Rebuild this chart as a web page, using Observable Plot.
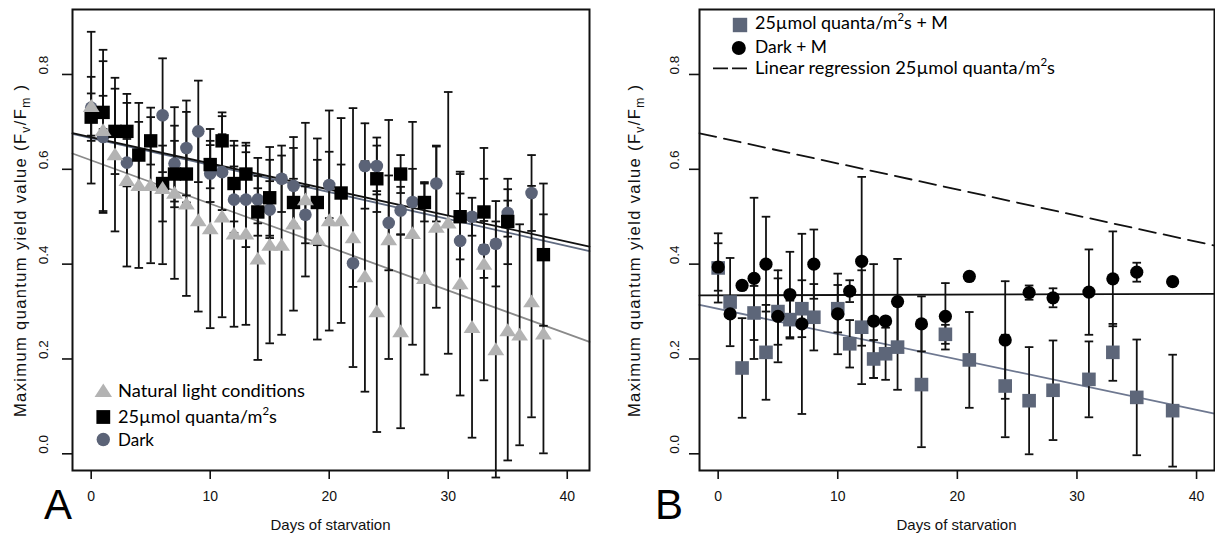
<!DOCTYPE html>
<html><head><meta charset="utf-8">
<script src="https://cdn.jsdelivr.net/npm/d3@7"></script>
<script src="https://cdn.jsdelivr.net/npm/@observablehq/plot@0.6"></script>
<style>
body{margin:0;background:#fff;}
#wrap{position:relative;width:1215px;height:536px;overflow:hidden;background:#fff;}
#a{position:absolute;left:0;top:0;width:600px;height:536px;}
#b{position:absolute;left:600px;top:0;width:615px;height:536px;}
svg{display:block;}
</style></head><body>
<div id="wrap"><div id="a"></div><div id="b"></div></div>
<script>
// ---------- Data: panel A ----------
const aNatDays = [0,1,2,3,4,5,6,7,8,9,10,11,12,13,14,15,16,17,18,19,20,21,22,23,24,25,26,27,28,29,30,31,32,33,34,35,36,37,38];
const aNatVals = [0.733,0.682,0.631,0.577,0.566,0.566,0.56,0.55,0.527,0.492,0.475,0.50,0.464,0.464,0.411,0.44,0.44,0.485,0.536,0.453,0.492,0.492,0.456,0.374,0.30,0.452,0.258,0.465,0.37,0.478,0.487,0.359,0.267,0.40,0.22,0.26,0.251,0.321,0.253];
const aNatErr  = [0.062,0.17,0.162,0.182,0.174,0.164,0.16,0.181,0.194,0.192,0.21,0.212,0.196,0.192,0.213,0.207,0.189,0.183,0.162,0.212,0.232,0.216,0.273,0.243,0.254,0.252,0.204,0.235,0.203,0.17,0.276,0.236,0.233,0.245,0.27,0.274,0.233,0.244,0.252];

const aLightDays = [0,1,2,3,4,5,6,7,8,10,11,12,13,14,15,17,19,21,24,26,28,31,33,35,38];
const aLightVals = [0.71,0.72,0.68,0.68,0.63,0.66,0.57,0.59,0.59,0.61,0.66,0.57,0.59,0.51,0.54,0.53,0.53,0.55,0.58,0.59,0.53,0.50,0.51,0.49,0.42];
const aLightErr  = [0.05,0.035,0.09,0.06,0.07,0.05,0.08,0.07,0.06,0.05,0.06,0.08,0.06,0.05,0.08,0.05,0.09,0.06,0.07,0.04,0.04,0.09,0.07,0.09,0.15];

const aDarkDays = [0,1,3,6,7,8,9,10,11,12,13,14,15,16,17,18,20,22,23,24,25,26,27,29,31,32,33,34,35,37];
const aDarkVals = [0.73,0.668,0.614,0.714,0.612,0.645,0.68,0.591,0.594,0.536,0.536,0.536,0.515,0.58,0.565,0.504,0.567,0.402,0.607,0.607,0.487,0.513,0.531,0.57,0.449,0.50,0.431,0.443,0.508,0.55];
const aDarkErr  = [0.16,0.16,0.05,0.12,0.08,0.1,0.107,0.06,0.08,0.07,0.1,0.05,0.06,0.07,0.08,0.06,0.07,0.05,0.09,0.06,0.1,0.05,0.07,0.08,0.1,0.04,0.06,0.09,0.05,0.08];

// regression lines [intercept, slope]
const aFitNat = [0.619, -0.00915];
const aFitLight = [0.6674, -0.0055];
const aFitDark = [0.666, -0.0057];

// ---------- Data: panel B ----------
const bDays = [0,1,2,3,4,5,6,7,8,10,11,12,13,14,15,17,19,21,24,26,28,31,33,35,38];
const bLightVals = [0.392,0.32,0.181,0.297,0.214,0.30,0.283,0.306,0.288,0.306,0.232,0.267,0.20,0.211,0.225,0.146,0.252,0.198,0.143,0.112,0.134,0.157,0.214,0.119,0.091];
const bLightErr  = [0.073,0.093,0.105,0.057,0.10,0.07,0.04,0.06,0.07,0.05,0.05,0.12,0.04,0.055,0.09,0.132,0.02,0.101,0.108,0.113,0.105,0.08,0.06,0.122,0.118];
const bDarkVals = [0.394,0.295,0.355,0.37,0.40,0.29,0.336,0.274,0.40,0.295,0.343,0.406,0.28,0.28,0.321,0.274,0.29,0.374,0.24,0.34,0.329,0.341,0.369,0.383,0.363];
const bDarkErr  = [0.05,0,0,0.17,0.10,0.097,0.09,0.19,0.073,0.085,0.023,0.178,0.12,0,0.09,0.058,0.07,0,0.124,0.015,0.02,0.09,0.10,0.02,0];
const bFitLight = [0.3057, -0.00532];
const bFitDark = [0.3341, 0.00008];
const bFitRef = [0.6674, -0.0055]; // dashed: regression of 25µmol from panel A

const xTicks = [0,10,20,30,40];
const yTicks = [0,0.2,0.4,0.6,0.8];

// ---------- helpers ----------
const rad = s => Math.sqrt(s/Math.PI);
const capSym = {draw(c,s){const r=rad(s); c.moveTo(-r,0); c.lineTo(r,0);}};
const triSym = {draw(c,s){const r=rad(s); c.moveTo(0,-r*0.98); c.lineTo(r*1.15,r*0.78); c.lineTo(-r*1.15,r*0.78); c.closePath();}};
const sqSym  = {draw(c,s){const r=rad(s); c.rect(-r,-r,2*r,2*r);}};

function rows(days, vals, errs){
  return days.map((d,i)=>({day:d, v:vals[i], e:errs[i], lo:vals[i]-errs[i], hi:vals[i]+errs[i]}));
}
function errMarks(data){
  const f = data.filter(d=>d.e>0);
  const o = {stroke:"#111", strokeWidth:1.8};
  return [
    Plot.ruleX(f,{x:"day",y1:"lo",y2:"hi",...o}),
    Plot.dot(f,{x:"day",y:"lo",symbol:capSym,r:4.3,fill:"none",...o}),
    Plot.dot(f,{x:"day",y:"hi",symbol:capSym,r:4.3,fill:"none",...o})
  ];
}
function fitLine(fit, xDomain, opts){
  const pts = xDomain.map(x=>({x, y: fit[0]+fit[1]*x}));
  return Plot.line(pts,{x:"x",y:"y",...opts});
}
const yDomain = [-0.0352, 0.937];
const FONT = "'Liberation Sans', Arial, sans-serif";
const LFONT = "Lato, 'Open Sans', sans-serif";

function basePlot({width, marginLeft, marginRight, xDomain, labelDx, marks}){
  return Plot.plot({
    width, height:536, marginLeft, marginRight, marginTop:9, marginBottom:66,
    style:{fontFamily:FONT, fontSize:"14px", background:"#fff", color:"#111"},
    x:{domain:xDomain, axis:null},
    y:{domain:yDomain, axis:null},
    marks:[
      ...marks,
      Plot.frame({stroke:"#111", strokeWidth:2}),
      Plot.axisX({ticks:xTicks, tickSize:9, tickPadding:12, label:null, strokeWidth:1.6, fontSize:14}),
      Plot.axisY({ticks:yTicks, tickSize:10, tickFormat:()=>"", label:null, strokeWidth:1.6}),
      Plot.text(yTicks,{y:d=>d, text:d=>d.toFixed(1), frameAnchor:"left", dx:labelDx, rotate:-90, fontSize:13.5, fill:"#111"})
    ]
  });
}

// ---------- Panel A ----------
const aX = [-1.57, 41.87];
const aNat = rows(aNatDays,aNatVals,aNatErr);
const aLight = rows(aLightDays,aLightVals,aLightErr);
const aDark = rows(aDarkDays,aDarkVals,aDarkErr);
const svgA = basePlot({width:600, marginLeft:72, marginRight:11, xDomain:aX, labelDx:-28.5, marks:[
  fitLine(aFitNat, aX, {stroke:"#8a8a8a", strokeWidth:1.8}),
  fitLine(aFitDark, aX, {stroke:"#5f6a80", strokeWidth:1.8}),
  fitLine(aFitLight, aX, {stroke:"#111", strokeWidth:1.8}),
  ...errMarks(aDark), ...errMarks(aLight), ...errMarks(aNat),
  Plot.dot(aDark,{x:"day",y:"v",r:6.3,fill:"#5b6377",stroke:"none"}),
  Plot.dot(aLight,{x:"day",y:"v",symbol:sqSym,r:6.7,fill:"#000",stroke:"none"}),
  Plot.dot(aNat,{x:"day",y:"v",symbol:triSym,r:7.3,fill:"#b3b3b3",stroke:"none"})
]});
document.getElementById("a").appendChild(svgA);

// ---------- Panel B ----------
const bX = [-1.56, 41.5];
const bLight = rows(bDays,bLightVals,bLightErr);
const bDark = rows(bDays,bDarkVals,bDarkErr);
const svgB = basePlot({width:615, marginLeft:99, marginRight:1, xDomain:bX, labelDx:-24.5, marks:[
  fitLine(bFitRef, bX, {stroke:"#111", strokeWidth:1.8, strokeDasharray:"17,8"}),
  fitLine(bFitLight, bX, {stroke:"#6e7890", strokeWidth:1.8}),
  fitLine(bFitDark, bX, {stroke:"#111", strokeWidth:1.8}),
  ...errMarks(bLight), ...errMarks(bDark),
  Plot.dot(bLight,{x:"day",y:"v",symbol:sqSym,r:6.8,fill:"#5d6679",stroke:"none"}),
  Plot.dot(bDark,{x:"day",y:"v",r:6.6,fill:"#000",stroke:"none"})
]});
document.getElementById("b").appendChild(svgB);

// ---------- decorations (titles, panel letters, legends) ----------
function yTitle(svg, x, y){
  const t = d3.select(svg).append("text")
    .attr("transform",`translate(${x},${y}) rotate(-90)`)
    .attr("text-anchor","middle").attr("font-family",FONT).attr("font-size",16.5).attr("fill","#111")
    .attr("textLength",332).attr("lengthAdjust","spacing");
  t.append("tspan").text("Maximum quantum yield value (F");
  t.append("tspan").attr("dy",4).attr("font-size",12).text("v");
  t.append("tspan").attr("dy",-4).text("/F");
  t.append("tspan").attr("dy",4).attr("font-size",12).text("m");
  t.append("tspan").attr("dy",-4).text(" )");
}
function xTitle(svg, x){
  d3.select(svg).append("text").attr("x",x).attr("y",530).attr("text-anchor","middle")
    .attr("font-family",FONT).attr("font-size",15).attr("fill","#111").text("Days of starvation");
}
function letter(svg, x, s){
  d3.select(svg).append("text").attr("x",x).attr("y",519).attr("text-anchor","start").attr("font-family",FONT)
    .attr("font-size",42).attr("fill","#000").text(s);
}
function legendText(g, x, y, parts, len){
  const t = g.append("text").attr("x",x).attr("y",y).attr("text-anchor","start")
    .attr("font-family",LFONT).attr("font-size",17.5).attr("fill","#000")
    .attr("textLength",len).attr("lengthAdjust","spacingAndGlyphs");
  parts.forEach(p=>{
    if (p.sup) t.append("tspan").attr("dy",-8).attr("font-size",11).text(p.sup);
    else t.append("tspan").attr("dy",p.after?8:0).text(p.t);
  });
}
const sym = (type,r)=>d3.symbol().type(type).size(Math.PI*r*r)();

// Panel A
yTitle(svgA, 26, 251);
xTitle(svgA, 330.5);
letter(svgA, 44, "A");
{
  const g = d3.select(svgA).append("g");
  g.append("path").attr("d",sym(triSym,7.6)).attr("transform","translate(103.3,391)").attr("fill","#b3b3b3");
  g.append("path").attr("d",sym(sqSym,6.9)).attr("transform","translate(103.3,417)").attr("fill","#000");
  g.append("path").attr("d",sym(d3.symbolCircle,6.7)).attr("transform","translate(103.3,439.5)").attr("fill","#5b6377");
  legendText(g,118,396.7,[{t:"Natural light conditions"}],187);
  legendText(g,118,423.3,[{t:"25µmol quanta/m"},{sup:"2"},{t:"s",after:true}],159);
  legendText(g,118,446,[{t:"Dark"}],36);
}

// Panel B
yTitle(svgB, 40, 251);
xTitle(svgB, 356.5);
letter(svgB, 55, "B");
{
  const g = d3.select(svgB).append("g");
  g.append("path").attr("d",sym(sqSym,7.2)).attr("transform","translate(140,25)").attr("fill","#5d6679");
  g.append("path").attr("d",sym(d3.symbolCircle,7)).attr("transform","translate(138.8,48)").attr("fill","#000");
  g.append("line").attr("x1",113).attr("x2",147).attr("y1",68.3).attr("y2",68.3)
    .attr("stroke","#111").attr("stroke-width",1.8).attr("stroke-dasharray","15,4");
  legendText(g,155,29.3,[{t:"25µmol quanta/m"},{sup:"2"},{t:"s + M",after:true}],193);
  legendText(g,155,52.7,[{t:"Dark + M"}],72);
  legendText(g,155,74,[{t:"Linear regression 25µmol quanta/m"},{sup:"2"},{t:"s",after:true}],300);
}
</script>
</body></html>
